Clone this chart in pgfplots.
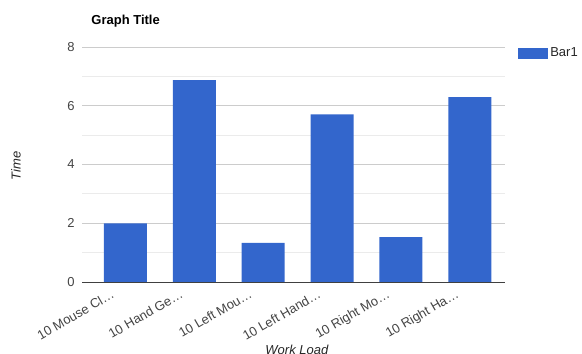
\documentclass[border=0pt]{standalone}
\usepackage{fontspec}
\setmainfont{Liberation Sans}
\usepackage{pgfplots}
\pgfplotsset{compat=1.18}
\definecolor{barblue}{HTML}{3366CC}
\definecolor{ticktext}{HTML}{444444}
\definecolor{majgrid}{HTML}{CCCCCC}
\definecolor{mingrid}{HTML}{EBEBEB}
\begin{document}
\begin{tikzpicture}
\useasboundingbox (0bp,0bp) rectangle (582bp,354bp);
\begin{axis}[
  at={(82bp,72bp)}, anchor=south west,
  scale only axis, width=423bp, height=235bp,
  ymin=0, ymax=8, xmin=-0.63, xmax=5.51,
  ytick={0,2,4,6,8},
  minor ytick={1,3,5,7},
  ymajorgrids, yminorgrids,
  major grid style={majgrid, line width=0.8bp},
  minor grid style={mingrid, line width=0.8bp},
  xtick=data,
  xticklabels={10 Mouse Cl…,10 Hand Ge…,10 Left Mou…,10 Left Hand…,10 Right Mo…,10 Right Ha…},
  axis x line=bottom, axis y line=left,
  axis line style={-},
  x axis line style={draw=black!75, line width=1bp},
  y axis line style={draw=none},
  major tick length=0pt, minor tick length=0pt,
  tick style={draw=none},
  /pgf/number format/assume math mode=true,
  tick label style={font=\fontsize{13bp}{15bp}\selectfont, text=ticktext},
  yticklabel style={anchor=east, xshift=-4bp},
  xticklabel style={rotate=30, anchor=north east, xshift=-13bp, yshift=5bp},
  title={Graph Title},
  title style={font=\fontsize{13bp}{15bp}\selectfont\bfseries, at={(axis description cs:0.014,1.085)}, anchor=west},
  ylabel={Time},
  ylabel style={font=\fontsize{13bp}{15bp}\selectfont\itshape, text=black!85, at={(axis description cs:-0.156,0.495)}, anchor=center, rotate=0},
  xlabel={Work Load},
  xlabel style={font=\fontsize{13bp}{15bp}\selectfont\itshape, text=black!85, at={(axis description cs:0.508,-0.29)}, anchor=center},
  legend style={at={(axis description cs:1.031,1.005)}, anchor=north west, draw=none, fill=none, font=\fontsize{13bp}{15bp}\selectfont, text=black!85, inner sep=0pt},
  legend image code/.code={\fill[barblue] (0bp,-5.5bp) rectangle (30bp,5.5bp);},
  legend cell align=left,
]
\addplot[ybar, bar width=43bp, fill=barblue, draw=none] coordinates {
  (0,2.0) (1,6.87) (2,1.33) (3,5.71) (4,1.53) (5,6.29)
};
\addlegendentry{Bar1}
\end{axis}
\end{tikzpicture}
\end{document}
